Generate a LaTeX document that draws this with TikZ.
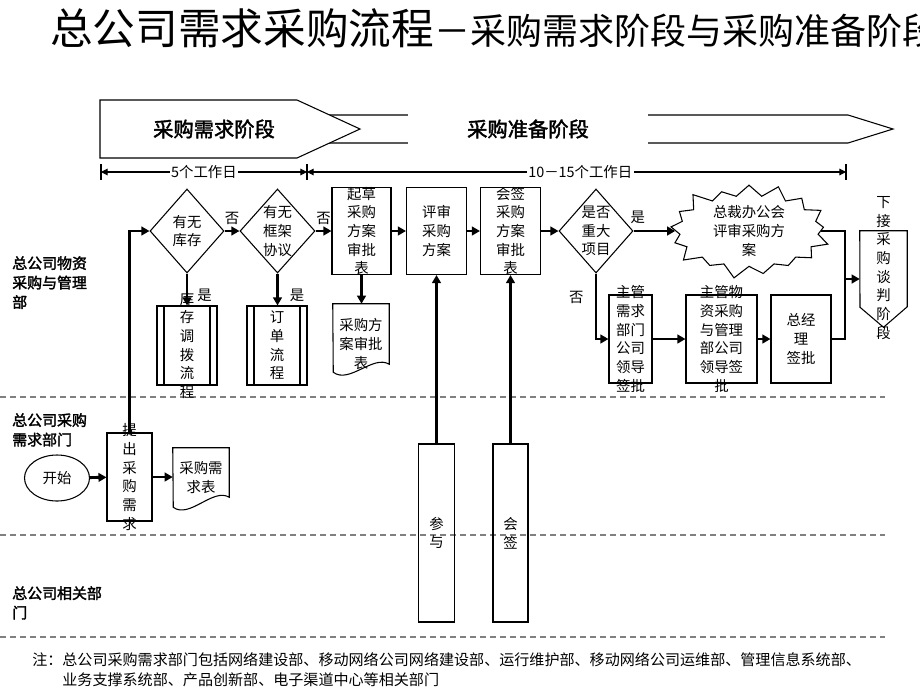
\documentclass[tikz,border=0pt]{standalone}
\usepackage{fontspec}
\setmainfont{Noto Sans CJK SC}[AutoFakeBold=2]
\usetikzlibrary{arrows.meta,shapes.geometric,shapes.symbols}
\newcommand{\bodyfont}{\fontsize{10.8pt}{14pt}\selectfont}
\newcommand{\lanefont}{\bfseries\fontsize{11.2pt}{14.6pt}\selectfont}
\newcommand{\phasefont}{\bfseries\fontsize{15.2pt}{18pt}\selectfont}
\newcommand{\notefont}{\fontsize{11.3pt}{15pt}\selectfont}

\begin{document}
\begin{tikzpicture}[x=0.75pt,y=0.75pt,yscale=-1,xscale=1,
  box/.style={draw,line width=0.8pt,inner sep=0pt},
  vt/.style={align=center,inner sep=0pt,font=\bodyfont},
  subproc/.style={box,path picture={
    \draw[line width=0.8pt] ([xshift=5.25pt]path picture bounding box.north west) -- ([xshift=5.25pt]path picture bounding box.south west)
      ([xshift=-5.25pt]path picture bounding box.north east) -- ([xshift=-5.25pt]path picture bounding box.south east);}},
  arr/.style={line width=2.2pt,-{Triangle[length=6pt,width=6.5pt]}},
  link/.style={line width=2.2pt},
  dimline/.style={line width=0.8pt,{Triangle[length=5pt,width=5pt]}-{Triangle[length=5pt,width=5pt]}},
  lanesep/.style={gray,line width=0.8pt,dash pattern=on 4.5pt off 3pt},
  lanelbl/.style={anchor=north west,align=left,inner sep=0pt,font=\lanefont}]
\useasboundingbox (0,0) rectangle (920,690);

% Title
\node[anchor=west,inner sep=0pt] (title) at (50,28) {\fontsize{32pt}{36pt}\selectfont 总公司需求采购流程\fontsize{27pt}{30pt}\selectfont －采购需求阶段与采购准备阶段};

% Phase banner
\draw[line width=0.8pt] (300,115) -- (848,115) -- (893,129) -- (848,143) -- (300,143) -- cycle;
\draw[line width=0.8pt,fill=white] (100,100) -- (297,100) -- (360,129) -- (297,158) -- (100,158) -- cycle;
\node[font=\phasefont] (xqjd) at (214,129) {采购需求阶段};
\node[fill=white,minimum width=180pt,minimum height=30pt,font=\phasefont] (zbjd) at (528,129) {采购准备阶段};

% Working days
\coordinate (t0) at (101,172);
\coordinate (t1) at (307,172);
\coordinate (t2) at (846,172);
\foreach \t in {t0,t1,t2} \draw[line width=1.2pt] (\t) ++(0,-8) -- ++(0,16);
\draw[dimline] (t0) -- (t1) node[midway,fill=white,inner sep=1pt,font=\bodyfont] {5个工作日};
\draw[dimline] (t1) -- (t2) node[pos=0.507,fill=white,inner sep=1pt,font=\bodyfont] {10－15个工作日};

% Lanes
\node[lanelbl] (lane1) at (12,256) {总公司物资\\采购与管理\\部};
\node[lanelbl] (lane2) at (12,413) {总公司采购\\需求部门};
\node[lanelbl] (lane3) at (12,586) {总公司相关部\\门};
\draw[lanesep] (0,397) -- (885,397);
\draw[lanesep] (0,535) -- (885,535);
\draw[lanesep] (0,637) -- (885,637);

% Demand department
\node[box,ellipse,minimum width=48.75pt,minimum height=34.5pt,label={[vt]center:开始}] (start) at (57,478) {};
\node[box,minimum width=33.75pt,minimum height=66pt,label={[vt]center:提\\出\\采\\购\\需\\求}] (tichu) at (129.5,477) {};
\node[inner sep=0pt,minimum width=42pt,minimum height=36.75pt,label={[vt,yshift=-4pt]center:采购需\\求表}] (xqb) at (201,472.5) {};
\draw[line width=0.8pt] (xqb.north west) -- (xqb.north east) -- (xqb.south east) .. controls +(-16,-10) and +(16,12) .. ++(-56,10) -- cycle;

% Materials department
\node[box,diamond,minimum width=55.5pt,minimum height=63pt,label={[vt]center:有无\\库存}] (youkucun) at (187,231) {};
\node[box,diamond,minimum width=56.25pt,minimum height=63pt,label={[vt]center:有无\\框架\\协议}] (youxieyi) at (277.5,231) {};
\node[subproc,minimum width=45pt,minimum height=59.25pt,label={[vt]center:库\\存\\调\\拨\\流\\程}] (kucun) at (187,345.5) {};
\node[subproc,minimum width=45pt,minimum height=59.25pt,label={[vt]center:订\\单\\流\\程}] (dingdan) at (277,345.5) {};
\node[box,minimum width=44.25pt,minimum height=65.25pt,label={[vt]center:起草\\采购\\方案\\审批\\表}] (qicao) at (361.5,231) {};
\node[inner sep=0pt,minimum width=42pt,minimum height=45pt,label={[vt,yshift=-7.5pt]center:采购方\\案审批\\表}] (fabiao) at (361,334) {};
\draw[line width=0.8pt] (fabiao.north west) -- (fabiao.north east) -- (fabiao.south east) .. controls +(-16,-10) and +(16,12) .. ++(-56,8) -- cycle;
\node[box,minimum width=45pt,minimum height=65.25pt,label={[vt]center:评审\\采购\\方案}] (pingshen) at (436.5,231) {};
\node[box,minimum width=45pt,minimum height=65.25pt,label={[vt]center:会签\\采购\\方案\\审批\\表}] (huiqian) at (510.5,231) {};
\node[box,diamond,minimum width=55.5pt,minimum height=63pt,label={[vt]center:是否\\重大\\项目}] (zhongda) at (596,231) {};
\node[box,starburst,starburst points=17,starburst point height=11pt,minimum width=126pt,minimum height=75pt,label={[vt]center:总裁办公会\\评审采购方\\案}] (zcb) at (749,231) {};
\node[box,minimum width=32.25pt,minimum height=66pt,label={[vt]center:主管\\需求\\部门\\公司\\领导\\签批}] (zg1) at (630.5,339) {};
\node[box,minimum width=53.25pt,minimum height=66pt,label={[vt]center:主管物\\资采购\\与管理\\部公司\\领导签\\批}] (zg2) at (721.5,339) {};
\node[box,minimum width=45pt,minimum height=66pt,label={[vt]center:总经\\理\\签批}] (zjl) at (801,339) {};
\node[inner sep=0pt,minimum width=35.25pt,minimum height=72pt,label={[vt,yshift=8.25pt]center:下\\接\\采\\购\\谈\\判\\阶\\段}] (xiajie) at (883.5,279) {};
\draw[line width=0.8pt] (xiajie.north west) -- (xiajie.north east) -- ++(0,76) -- (xiajie.south) -- ++(-23.5,-20) -- cycle;
\coordinate (hui) at (845,279);

% Related departments
\node[box,minimum width=27pt,minimum height=133.5pt,label={[vt]center:参\\与}] (canyu) at (436.5,533) {};
\node[box,minimum width=26.25pt,minimum height=133.5pt,label={[vt]center:会\\签}] (huiqianbm) at (510.5,533) {};

% Connectors
\draw[arr] (start) -- (tichu);
\draw[arr] (tichu.east) -- (tichu.east -| xqb.west);
\draw[arr] (tichu.north) |- (youkucun.west);
\draw[arr] (youkucun.east) -- (youxieyi.west) node[midway,above=3.5pt,vt] {否};
\draw[arr] (youxieyi.east) -- (qicao.west) node[midway,above=3.5pt,vt] {否};
\draw[arr] (youkucun.south) -- (kucun.north) node[pos=0.68,right=6.75pt,vt] {是};
\draw[arr] (youxieyi.south) -- (youxieyi.south |- dingdan.north) node[pos=0.68,right=8.25pt,vt] {是};
\draw[arr] (qicao.south) -- (qicao.south |- fabiao.north);
\draw[arr] (qicao) -- (pingshen);
\draw[arr] (pingshen) -- (huiqian);
\draw[arr] (huiqian) -- (zhongda);
\draw[arr] (canyu.north) -- (pingshen.south);
\draw[arr] (huiqianbm.north) -- (huiqian.south);
\draw[arr] (zhongda.east) -- (zcb.west) node[pos=0.1,above=4.5pt,vt] {是};
\draw[arr] (zhongda.south) |- (zg1.west) node[pos=0.18,left=8.25pt,vt] {否};
\draw[arr] (zg1) -- (zg2);
\draw[arr] (zg2) -- (zjl);
\draw[link] (zcb.east) -| (hui) |- (zjl.east);
\draw[arr] (hui) -- (hui -| xiajie.west);

% Note
\node[anchor=north west,align=left,inner sep=0pt,font=\notefont] (note) at (32,652) {注：总公司采购需求部门包括网络建设部、移动网络公司网络建设部、运行维护部、移动网络公司运维部、管理信息系统部、\\\hspace*{2em}业务支撑系统部、产品创新部、电子渠道中心等相关部门};
\end{tikzpicture}
\end{document}
